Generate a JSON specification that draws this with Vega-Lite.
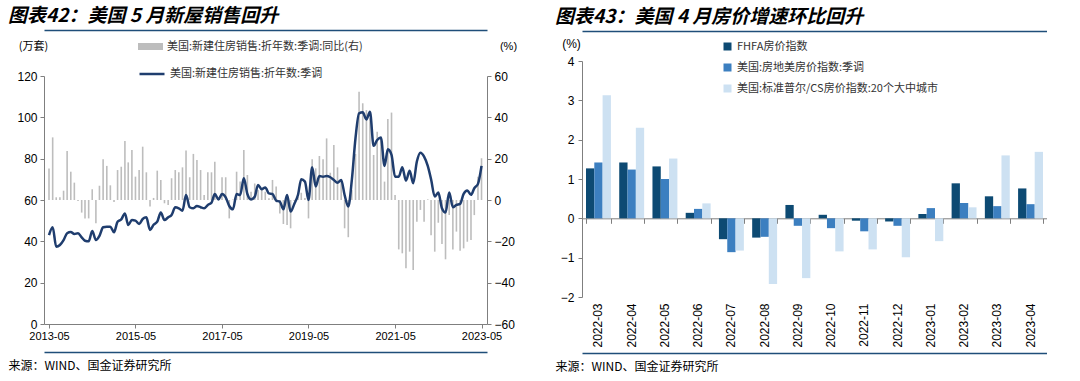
{
  "$schema": "https://vega.github.io/schema/vega-lite/v6.json",
  "background": "white",
  "padding": {"left": 8, "top": 7, "right": 0, "bottom": 0},
  "spacing": 38,
  "center": true,
  "config": {
    "view": {"stroke": null},
    "font": "Liberation Sans",
    "axis": {"grid": false, "domainColor": "#7f7f7f", "tickColor": "#7f7f7f", "labelColor": "#000000", "labelFont": "Liberation Sans", "labelFontSize": 12, "titleFont": "Noto Sans CJK SC", "titleFontWeight": "normal", "titleFontSize": 11, "titleColor": "#000000", "tickSize": 4},
    "legend": {"labelFont": "Noto Sans CJK SC", "labelFontSize": 11, "labelColor": "#333333", "labelLimit": 400},
    "title": {"font": "Noto Sans CJK SC", "fontSize": 19, "fontWeight": "bold", "fontStyle": "italic", "color": "#000000", "anchor": "start", "offset": 4}
  },
  "hconcat": [
    {"vconcat": [
    {
      "width": 443,
      "height": 248,
      "title": {"text": "图表42：美国 5 月新屋销售回升"},
      "data": {
        "format": {"parse": {"date": "date:'%Y-%m'"}},
        "values": [
          {"date": "2013-05", "sales": 43.0, "yoy": 15.3},
          {"date": "2013-06", "sales": 46.8, "yoy": 30.3},
          {"date": "2013-07", "sales": 37.4, "yoy": 1.3},
          {"date": "2013-08", "sales": 38.2, "yoy": 1.3},
          {"date": "2013-09", "sales": 40.6, "yoy": 4.5},
          {"date": "2013-10", "sales": 43.9, "yoy": 23.7},
          {"date": "2013-11", "sales": 44.5, "yoy": 13.7},
          {"date": "2013-12", "sales": 43.5, "yoy": 8.4},
          {"date": "2014-01", "sales": 43.9, "yoy": -0.5},
          {"date": "2014-02", "sales": 41.9, "yoy": -6.1},
          {"date": "2014-03", "sales": 40.3, "yoy": -8.9},
          {"date": "2014-04", "sales": 40.0, "yoy": -8.9},
          {"date": "2014-05", "sales": 45.0, "yoy": 5.2},
          {"date": "2014-06", "sales": 40.6, "yoy": -11.3},
          {"date": "2014-07", "sales": 42.6, "yoy": 6.9},
          {"date": "2014-08", "sales": 46.8, "yoy": 19.7},
          {"date": "2014-09", "sales": 47.1, "yoy": 16.5},
          {"date": "2014-10", "sales": 47.1, "yoy": 7.1},
          {"date": "2014-11", "sales": 44.4, "yoy": -1.0},
          {"date": "2014-12", "sales": 49.5, "yoy": 14.5},
          {"date": "2015-01", "sales": 50.6, "yoy": 16.1},
          {"date": "2015-02", "sales": 53.5, "yoy": 28.5},
          {"date": "2015-03", "sales": 47.9, "yoy": 18.2},
          {"date": "2015-04", "sales": 50.3, "yoy": 24.2},
          {"date": "2015-05", "sales": 50.0, "yoy": 11.3},
          {"date": "2015-06", "sales": 48.4, "yoy": 14.5},
          {"date": "2015-07", "sales": 50.8, "yoy": 25.8},
          {"date": "2015-08", "sales": 51.6, "yoy": 13.4},
          {"date": "2015-09", "sales": 45.5, "yoy": -3.2},
          {"date": "2015-10", "sales": 48.0, "yoy": 1.0},
          {"date": "2015-11", "sales": 49.5, "yoy": 14.2},
          {"date": "2015-12", "sales": 53.9, "yoy": 9.7},
          {"date": "2016-01", "sales": 50.3, "yoy": -1.6},
          {"date": "2016-02", "sales": 51.6, "yoy": -2.4},
          {"date": "2016-03", "sales": 52.7, "yoy": 10.5},
          {"date": "2016-04", "sales": 56.5, "yoy": 14.5},
          {"date": "2016-05", "sales": 56.0, "yoy": 13.4},
          {"date": "2016-06", "sales": 54.8, "yoy": 15.8},
          {"date": "2016-07", "sales": 62.4, "yoy": 23.9},
          {"date": "2016-08", "sales": 56.5, "yoy": 11.0},
          {"date": "2016-09", "sales": 56.0, "yoy": 22.3},
          {"date": "2016-10", "sales": 57.1, "yoy": 19.4},
          {"date": "2016-11", "sales": 56.5, "yoy": 14.5},
          {"date": "2016-12", "sales": 56.0, "yoy": 2.4},
          {"date": "2017-01", "sales": 57.6, "yoy": 13.4},
          {"date": "2017-02", "sales": 58.7, "yoy": 13.4},
          {"date": "2017-03", "sales": 62.9, "yoy": 18.5},
          {"date": "2017-04", "sales": 60.3, "yoy": 0.3},
          {"date": "2017-05", "sales": 62.9, "yoy": 11.0},
          {"date": "2017-06", "sales": 61.3, "yoy": 11.0},
          {"date": "2017-07", "sales": 57.1, "yoy": -8.9},
          {"date": "2017-08", "sales": 55.5, "yoy": 0.3},
          {"date": "2017-09", "sales": 62.9, "yoy": 13.7},
          {"date": "2017-10", "sales": 62.4, "yoy": 8.9},
          {"date": "2017-11", "sales": 70.5, "yoy": 24.2},
          {"date": "2017-12", "sales": 62.9, "yoy": 12.1},
          {"date": "2018-01", "sales": 60.3, "yoy": 4.0},
          {"date": "2018-02", "sales": 61.6, "yoy": 8.0},
          {"date": "2018-03", "sales": 67.3, "yoy": 4.8},
          {"date": "2018-04", "sales": 65.2, "yoy": 5.0},
          {"date": "2018-05", "sales": 66.1, "yoy": 4.0},
          {"date": "2018-06", "sales": 63.2, "yoy": 0.8},
          {"date": "2018-07", "sales": 62.9, "yoy": 9.7},
          {"date": "2018-08", "sales": 59.7, "yoy": 6.5},
          {"date": "2018-09", "sales": 59.2, "yoy": -6.5},
          {"date": "2018-10", "sales": 55.5, "yoy": -11.6},
          {"date": "2018-11", "sales": 62.4, "yoy": -12.1},
          {"date": "2018-12", "sales": 54.4, "yoy": -13.7},
          {"date": "2019-01", "sales": 58.1, "yoy": -0.5},
          {"date": "2019-02", "sales": 62.4, "yoy": 1.6},
          {"date": "2019-03", "sales": 70.0, "yoy": 3.5},
          {"date": "2019-04", "sales": 68.9, "yoy": 1.0},
          {"date": "2019-05", "sales": 60.0, "yoy": -8.9},
          {"date": "2019-06", "sales": 75.8, "yoy": 19.7},
          {"date": "2019-07", "sales": 66.5, "yoy": 15.3},
          {"date": "2019-08", "sales": 71.6, "yoy": 21.3},
          {"date": "2019-09", "sales": 71.3, "yoy": 19.7},
          {"date": "2019-10", "sales": 71.6, "yoy": 29.8},
          {"date": "2019-11", "sales": 71.0, "yoy": 13.2},
          {"date": "2019-12", "sales": 69.7, "yoy": 26.6},
          {"date": "2020-01", "sales": 68.4, "yoy": 15.8},
          {"date": "2020-02", "sales": 69.7, "yoy": 9.7},
          {"date": "2020-03", "sales": 62.4, "yoy": -13.7},
          {"date": "2020-04", "sales": 56.8, "yoy": -18.0},
          {"date": "2020-05", "sales": 69.7, "yoy": 4.8},
          {"date": "2020-06", "sales": 90.0, "yoy": 22.3},
          {"date": "2020-07", "sales": 101.9, "yoy": 52.4},
          {"date": "2020-08", "sales": 102.4, "yoy": 46.8},
          {"date": "2020-09", "sales": 99.0, "yoy": 43.5},
          {"date": "2020-10", "sales": 102.7, "yoy": 39.5},
          {"date": "2020-11", "sales": 86.2, "yoy": 21.8},
          {"date": "2020-12", "sales": 89.0, "yoy": 33.0},
          {"date": "2021-01", "sales": 90.3, "yoy": 29.8},
          {"date": "2021-02", "sales": 76.5, "yoy": 8.9},
          {"date": "2021-03", "sales": 84.5, "yoy": 39.2},
          {"date": "2021-04", "sales": 81.8, "yoy": 42.3},
          {"date": "2021-05", "sales": 71.3, "yoy": 2.4},
          {"date": "2021-06", "sales": 71.3, "yoy": -23.9},
          {"date": "2021-07", "sales": 75.8, "yoy": -25.8},
          {"date": "2021-08", "sales": 69.4, "yoy": -33.0},
          {"date": "2021-09", "sales": 74.1, "yoy": -25.0},
          {"date": "2021-10", "sales": 68.1, "yoy": -33.9},
          {"date": "2021-11", "sales": 78.6, "yoy": -10.5},
          {"date": "2021-12", "sales": 82.9, "yoy": -4.8},
          {"date": "2022-01", "sales": 81.0, "yoy": -10.5},
          {"date": "2022-02", "sales": 76.5, "yoy": 0.3},
          {"date": "2022-03", "sales": 70.0, "yoy": -17.0},
          {"date": "2022-04", "sales": 61.7, "yoy": -25.0},
          {"date": "2022-05", "sales": 63.6, "yoy": -11.0},
          {"date": "2022-06", "sales": 56.0, "yoy": -21.3},
          {"date": "2022-07", "sales": 53.9, "yoy": -28.7},
          {"date": "2022-08", "sales": 63.6, "yoy": -7.3},
          {"date": "2022-09", "sales": 56.5, "yoy": -23.9},
          {"date": "2022-10", "sales": 57.6, "yoy": -15.3},
          {"date": "2022-11", "sales": 58.1, "yoy": -24.5},
          {"date": "2022-12", "sales": 63.0, "yoy": -23.4},
          {"date": "2023-01", "sales": 64.6, "yoy": -20.2},
          {"date": "2023-02", "sales": 62.5, "yoy": -19.4},
          {"date": "2023-03", "sales": 65.7, "yoy": -7.3},
          {"date": "2023-04", "sales": 67.8, "yoy": 11.3},
          {"date": "2023-05", "sales": 76.5, "yoy": 20.2}
        ]
      },
      "layer": [
        {
          "mark": {"type": "bar", "width": 1.6},
          "encoding": {
            "x": {"field": "date", "type": "temporal",
                  "scale": {"domain": [{"year": 2013, "month": 5, "date": 1}, {"year": 2023, "month": 5, "date": 5}]},
                  "axis": {"orient": "top", "offset": 46, "labels": false, "ticks": false, "domainColor": "#1f4e79", "domainWidth": 1.5, "title": null}},
            "y": {"field": "yoy", "type": "quantitative", "scale": {"domain": [-60, 60], "nice": false},
                  "axis": {"orient": "right", "values": [-60, -40, -20, 0, 20, 40, 60], "labelOverlap": false, "labelPadding": 3, "title": "(%)", "titleAngle": 0, "titleX": 21, "titleY": -30, "titleAlign": "center", "titleBaseline": "middle", "titleFont": "Liberation Sans"}},
            "fill": {"datum": "美国:新建住房销售:折年数:季调:同比(右)", "scale": {"range": ["#bdbdbd"]},
                     "legend": {"orient": "none", "legendX": 94, "legendY": -42, "title": null, "symbolType": "M-1,-0.28H1V0.28H-1Z", "symbolSize": 625, "symbolStrokeWidth": 0}}
          }
        },
        {
          "mark": {"type": "line", "interpolate": "monotone", "strokeWidth": 2.5},
          "encoding": {
            "x": {"field": "date", "type": "temporal",
                  "axis": {"orient": "bottom", "format": "%Y-%m", "labelFontSize": 11, "labelPadding": 2, "title": null,
                           "values": [{"year": 2013, "month": 5, "date": 1}, {"year": 2015, "month": 5, "date": 1}, {"year": 2017, "month": 5, "date": 1}, {"year": 2019, "month": 5, "date": 1}, {"year": 2021, "month": 5, "date": 1}, {"year": 2023, "month": 5, "date": 1}]}},
            "y": {"field": "sales", "type": "quantitative", "scale": {"domain": [0, 120], "nice": false},
                  "axis": {"orient": "left", "values": [0, 20, 40, 60, 80, 100, 120], "labelOverlap": false, "labelPadding": 3, "title": "(万套)", "titleAngle": 0, "titleX": -11, "titleY": -30, "titleAlign": "center", "titleBaseline": "middle"}},
            "stroke": {"datum": "美国:新建住房销售:折年数:季调", "scale": {"range": ["#1f3d6e"]},
                       "legend": {"orient": "none", "legendX": 94, "legendY": -16, "title": null, "symbolType": "stroke", "symbolSize": 625, "symbolStrokeWidth": 2.5}}
          }
        },
        {
          "mark": {"type": "point", "opacity": 0},
          "encoding": {
            "x": {"field": "date", "type": "temporal",
                  "axis": {"orient": "bottom", "offset": 28, "labels": false, "ticks": false, "domainColor": "#1f4e79", "domainWidth": 1.5,
                           "title": "来源：WIND、国金证券研究所", "titleX": -36, "titleY": 17, "titleAlign": "left", "titleBaseline": "alphabetic", "titleFontSize": 12}},
            "y": {"field": "sales", "type": "quantitative", "axis": null}
          }
        }
      ],
      "resolve": {"scale": {"y": "independent"}, "axis": {"x": "independent"}}
    }
    ]},
    {"vconcat": [
    {
      "width": 465,
      "height": 236,
      "title": {"text": "图表43：美国 4 月房价增速环比回升"},
      "data": {
        "values": [
          {"month": "2022-03", "series": "FHFA房价指数", "value": 1.27},
          {"month": "2022-03", "series": "美国:房地美房价指数:季调", "value": 1.42},
          {"month": "2022-03", "series": "美国:标准普尔/CS房价指数:20个大中城市", "value": 3.13},
          {"month": "2022-04", "series": "FHFA房价指数", "value": 1.42},
          {"month": "2022-04", "series": "美国:房地美房价指数:季调", "value": 1.24},
          {"month": "2022-04", "series": "美国:标准普尔/CS房价指数:20个大中城市", "value": 2.30},
          {"month": "2022-05", "series": "FHFA房价指数", "value": 1.32},
          {"month": "2022-05", "series": "美国:房地美房价指数:季调", "value": 1.00},
          {"month": "2022-05", "series": "美国:标准普尔/CS房价指数:20个大中城市", "value": 1.52},
          {"month": "2022-06", "series": "FHFA房价指数", "value": 0.14},
          {"month": "2022-06", "series": "美国:房地美房价指数:季调", "value": 0.24},
          {"month": "2022-06", "series": "美国:标准普尔/CS房价指数:20个大中城市", "value": 0.38},
          {"month": "2022-07", "series": "FHFA房价指数", "value": -0.53},
          {"month": "2022-07", "series": "美国:房地美房价指数:季调", "value": -0.86},
          {"month": "2022-07", "series": "美国:标准普尔/CS房价指数:20个大中城市", "value": -0.82},
          {"month": "2022-08", "series": "FHFA房价指数", "value": -0.49},
          {"month": "2022-08", "series": "美国:房地美房价指数:季调", "value": -0.47},
          {"month": "2022-08", "series": "美国:标准普尔/CS房价指数:20个大中城市", "value": -1.67},
          {"month": "2022-09", "series": "FHFA房价指数", "value": 0.34},
          {"month": "2022-09", "series": "美国:房地美房价指数:季调", "value": -0.19},
          {"month": "2022-09", "series": "美国:标准普尔/CS房价指数:20个大中城市", "value": -1.52},
          {"month": "2022-10", "series": "FHFA房价指数", "value": 0.09},
          {"month": "2022-10", "series": "美国:房地美房价指数:季调", "value": -0.25},
          {"month": "2022-10", "series": "美国:标准普尔/CS房价指数:20个大中城市", "value": -0.84},
          {"month": "2022-11", "series": "FHFA房价指数", "value": -0.06},
          {"month": "2022-11", "series": "美国:房地美房价指数:季调", "value": -0.33},
          {"month": "2022-11", "series": "美国:标准普尔/CS房价指数:20个大中城市", "value": -0.79},
          {"month": "2022-12", "series": "FHFA房价指数", "value": -0.08},
          {"month": "2022-12", "series": "美国:房地美房价指数:季调", "value": -0.19},
          {"month": "2022-12", "series": "美国:标准普尔/CS房价指数:20个大中城市", "value": -0.99},
          {"month": "2023-01", "series": "FHFA房价指数", "value": 0.11},
          {"month": "2023-01", "series": "美国:房地美房价指数:季调", "value": 0.26},
          {"month": "2023-01", "series": "美国:标准普尔/CS房价指数:20个大中城市", "value": -0.58},
          {"month": "2023-02", "series": "FHFA房价指数", "value": 0.89},
          {"month": "2023-02", "series": "美国:房地美房价指数:季调", "value": 0.39},
          {"month": "2023-02", "series": "美国:标准普尔/CS房价指数:20个大中城市", "value": 0.28},
          {"month": "2023-03", "series": "FHFA房价指数", "value": 0.56},
          {"month": "2023-03", "series": "美国:房地美房价指数:季调", "value": 0.31},
          {"month": "2023-03", "series": "美国:标准普尔/CS房价指数:20个大中城市", "value": 1.60},
          {"month": "2023-04", "series": "FHFA房价指数", "value": 0.76},
          {"month": "2023-04", "series": "美国:房地美房价指数:季调", "value": 0.36},
          {"month": "2023-04", "series": "美国:标准普尔/CS房价指数:20个大中城市", "value": 1.69}
        ]
      },
      "layer": [
        {
          "mark": {"type": "bar"},
          "encoding": {
            "x": {"field": "month", "type": "nominal", "sort": null, "scale": {"paddingInner": 0.25, "paddingOuter": 0.12},
                  "axis": {"orient": "bottom", "domain": false, "ticks": false, "labelAngle": -90, "labelFontSize": 12, "labelPadding": 6, "title": null}},
            "xOffset": {"field": "series", "type": "nominal", "sort": null, "scale": {"paddingInner": 0, "paddingOuter": 0}},
            "y": {"field": "value", "type": "quantitative", "scale": {"domain": [-2, 4], "nice": false},
                  "axis": {"values": [-2, -1, 0, 1, 2, 3, 4], "labelOverlap": false, "labelPadding": 4, "title": "(%)", "titleAngle": 0, "titleX": -11, "titleY": -18, "titleAlign": "center", "titleBaseline": "middle", "titleFont": "Liberation Sans", "titleFontSize": 12}},
            "color": {"field": "series", "type": "nominal", "sort": null,
                      "scale": {"domain": ["FHFA房价指数", "美国:房地美房价指数:季调", "美国:标准普尔/CS房价指数:20个大中城市"], "range": ["#0d4a73", "#3c7fc0", "#cde1f2"]},
                      "legend": {"orient": "none", "legendX": 140, "legendY": -20, "title": null, "symbolType": "square", "symbolSize": 64, "rowPadding": 9, "symbolStrokeWidth": 0}}
          }
        },
        {
          "mark": {"type": "point", "opacity": 0},
          "encoding": {
            "x": {"field": "month", "type": "nominal", "sort": null,
                  "axis": {"orient": "bottom", "offset": -78.7, "labels": false, "ticks": true, "tickBand": "extent", "tickSize": 5, "title": null}},
            "y": {"field": "value", "type": "quantitative",
                  "axis": {"values": [-2, -1, 0, 1, 2, 3, 4], "labelOverlap": false, "labelPadding": 4, "title": "(%)", "titleAngle": 0, "titleX": -11, "titleY": -18, "titleAlign": "center", "titleBaseline": "middle", "titleFont": "Liberation Sans", "titleFontSize": 12}}
          }
        },
        {
          "mark": {"type": "point", "opacity": 0},
          "encoding": {
            "x": {"field": "month", "type": "nominal", "sort": null,
                  "axis": {"orient": "top", "offset": 30, "labels": false, "ticks": false, "domainColor": "#1f4e79", "domainWidth": 1.5, "title": null}},
            "y": {"field": "value", "type": "quantitative",
                  "axis": {"values": [-2, -1, 0, 1, 2, 3, 4], "labelOverlap": false, "labelPadding": 4, "title": "(%)", "titleAngle": 0, "titleX": -11, "titleY": -18, "titleAlign": "center", "titleBaseline": "middle", "titleFont": "Liberation Sans", "titleFontSize": 12}}
          }
        },
        {
          "mark": {"type": "point", "opacity": 0},
          "encoding": {
            "x": {"field": "month", "type": "nominal", "sort": null,
                  "axis": {"orient": "bottom", "offset": 56, "labels": false, "ticks": false, "domainColor": "#1f4e79", "domainWidth": 1.5,
                           "title": ["来源：WIND、国金证券研究所", " "], "titleLineHeight": 14, "titleX": -27, "titleY": 17, "titleAlign": "left", "titleBaseline": "alphabetic", "titleFontSize": 12}},
            "y": {"field": "value", "type": "quantitative",
                  "axis": {"values": [-2, -1, 0, 1, 2, 3, 4], "labelOverlap": false, "labelPadding": 4, "title": "(%)", "titleAngle": 0, "titleX": -11, "titleY": -18, "titleAlign": "center", "titleBaseline": "middle", "titleFont": "Liberation Sans", "titleFontSize": 12}}
          }
        }
      ],
      "resolve": {"axis": {"x": "independent"}}
    }
    ]}
  ],
  "resolve": {"legend": {"fill": "independent", "stroke": "independent", "color": "independent"}}
}
